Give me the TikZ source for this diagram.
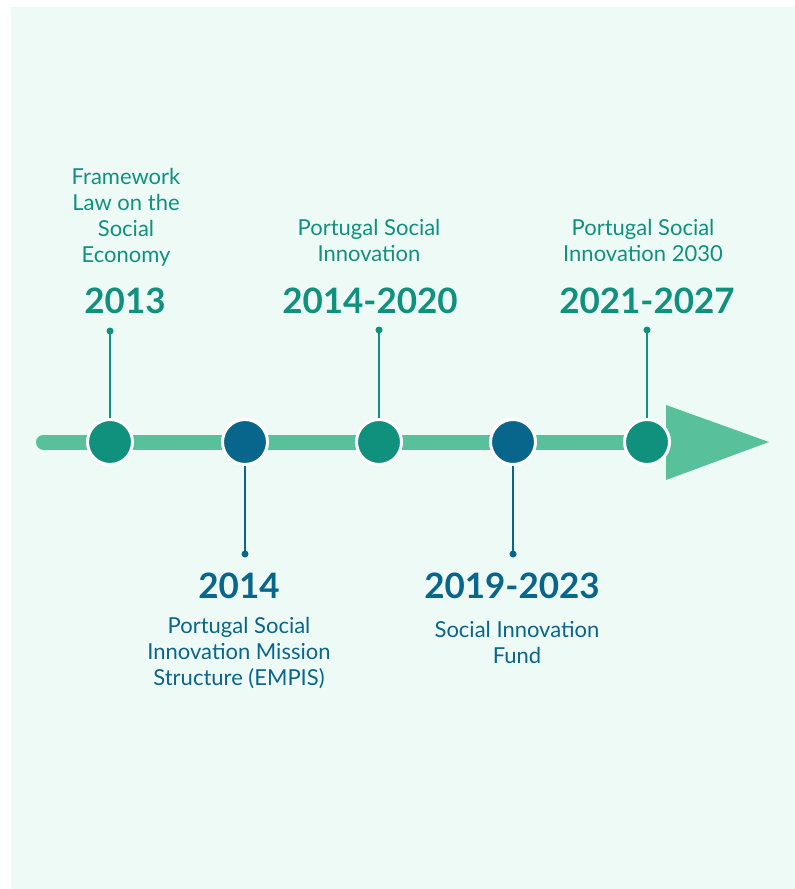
\documentclass[tikz,border=0pt]{standalone}
\usepackage{fontspec}
\setmainfont{Lato}
\definecolor{bgmint}{HTML}{EEFAF6}
\definecolor{barg}{HTML}{58C09A}
\definecolor{tealc}{HTML}{0F917D}
\definecolor{bluec}{HTML}{08658C}
\begin{document}
\begin{tikzpicture}[x=1pt,y=-1pt,
  milestone/.style={circle,minimum size=45pt,inner sep=0pt,draw=white,line width=3pt},
  pin/.style={circle,minimum size=7pt,inner sep=0pt},
  stem/.style={line width=2pt},
  yearlbl/.style={font=\fontsize{35}{40}\selectfont\bfseries,anchor=base,inner sep=0pt},
  desc/.style={font=\fontsize{22}{26}\selectfont,align=center,anchor=base,inner sep=0pt}]
  \useasboundingbox (0,0) rectangle (795,889);
  \fill[bgmint] (11,7) rectangle (795,889);
  % timeline bar and arrow head
  \coordinate (barstart) at (43.5,442);
  \coordinate (barend) at (668,442);
  \draw[barg,line width=15pt,line cap=round] (barstart) -- (barend);
  \fill[barg] (666,405) -- (769,442) -- (666,480) -- cycle;
  % milestones
  \node[milestone,fill=tealc] (m1) at (110,442) {};
  \node[milestone,fill=bluec] (m2) at (245,442) {};
  \node[milestone,fill=tealc] (m3) at (379,442) {};
  \node[milestone,fill=bluec] (m4) at (513,442) {};
  \node[milestone,fill=tealc] (m5) at (647,442) {};
  % pins
  \node[pin,fill=tealc] (p1) at (110,331) {};
  \node[pin,fill=bluec] (p2) at (245,554) {};
  \node[pin,fill=tealc] (p3) at (379,330) {};
  \node[pin,fill=bluec] (p4) at (513,554) {};
  \node[pin,fill=tealc] (p5) at (647,330) {};
  \draw[stem,tealc] (m1.north) -- (p1.center);
  \draw[stem,bluec] (m2.south) -- (p2.center);
  \draw[stem,tealc] (m3.north) -- (p3.center);
  \draw[stem,bluec] (m4.south) -- (p4.center);
  \draw[stem,tealc] (m5.north) -- (p5.center);
  % years
  \node[yearlbl,text=tealc] (y1) at (125,313) {2013};
  \node[yearlbl,text=bluec] (y2) at (239,598) {2014};
  \node[yearlbl,text=tealc] (y3) at (370,313) {2014-2020};
  \node[yearlbl,text=bluec] (y4) at (512,598) {2019-2023};
  \node[yearlbl,text=tealc] (y5) at (647,313) {2021-2027};
  % descriptions (anchored at the baseline of the last line)
  \node[desc,text=tealc] (d1) at (126,262) {Framework\\Law on the\\Social\\Economy};
  \node[desc,text=tealc] (d3) at (369,261) {Portugal Social\\Innovation};
  \node[desc,text=tealc] (d5) at (643,261) {Portugal Social\\Innovation 2030};
  \node[desc,text=bluec] (d2) at (239,685) {Portugal Social\\Innovation Mission\\Structure (EMPIS)};
  \node[desc,text=bluec] (d4) at (517,663) {Social Innovation\\Fund};
\end{tikzpicture}
\end{document}
